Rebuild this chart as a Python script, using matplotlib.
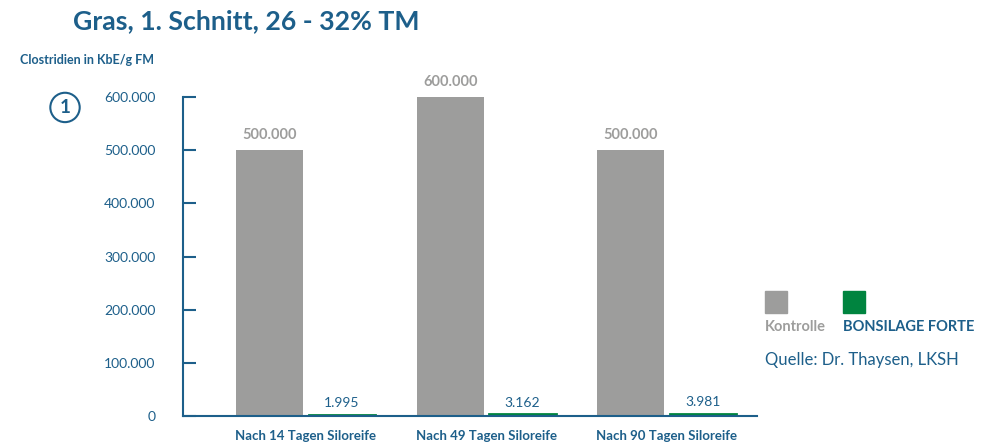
import matplotlib.pyplot as plt
from matplotlib.patches import Rectangle
import numpy as np

# Daten
categories = ['Nach 14 Tagen Siloreife', 'Nach 49 Tagen Siloreife', 'Nach 90 Tagen Siloreife']
kontrolle = [500000, 600000, 500000]
bonsilage = [1995, 3162, 3981]
yticks = [0, 100000, 200000, 300000, 400000, 500000, 600000]

BLUE = '#1D5F8A'
GRAY = '#9D9D9C'
GREEN = '#00843F'

plt.rcParams['font.family'] = ['Lato', 'DejaVu Sans']


def fmt(v):
    return f'{v:,.0f}'.replace(',', '.')


fig = plt.figure(figsize=(9.91, 4.44), dpi=100)
ax = fig.add_axes([0.1847, 0.063, 0.5793, 0.7185])

x = np.arange(len(categories))
w = 0.37
off = 0.2
ax.bar(x - off, kontrolle, w, color=GRAY)
ax.bar(x + off, bonsilage, w, color=GREEN, edgecolor=GREEN, linewidth=2)

for xi, v in zip(x, kontrolle):
    ax.annotate(fmt(v), (xi - off, v), xytext=(0, 6), textcoords='offset points',
                ha='center', va='bottom', color=GRAY, fontsize=10.5, fontweight='bold')
for xi, v in zip(x, bonsilage):
    ax.annotate(fmt(v), (xi + off, v), xytext=(0, 4), textcoords='offset points',
                ha='center', va='bottom', color=BLUE, fontsize=10)

ax.set_xlim(-0.68, 2.5)
ax.set_ylim(0, 600000)
ax.set_yticks(yticks)
ax.set_yticklabels([fmt(t) for t in yticks])
ax.set_xticks(x)
ax.set_xticklabels(categories, fontweight='bold')

for s in ['top', 'right']:
    ax.spines[s].set_visible(False)
for s in ['left', 'bottom']:
    ax.spines[s].set_color(BLUE)
    ax.spines[s].set_linewidth(1.5)

ax.tick_params(axis='y', direction='in', length=9, width=1.5, color=BLUE,
               labelcolor=BLUE, labelsize=10, pad=20)
ax.tick_params(axis='x', length=0, labelcolor=BLUE, labelsize=9.5, pad=10)

# Titel und Achsentitel
fig.text(0.074, 0.952, 'Gras, 1. Schnitt, 26 - 32% TM', color=BLUE, fontsize=19.2,
         fontweight='bold', ha='left', va='center')
fig.text(0.020, 0.865, 'Clostridien in KbE/g FM', color=BLUE, fontsize=9,
         fontweight='bold', ha='left', va='center')
fig.text(0.0656, 0.758, '1', color=BLUE, fontsize=13.5, fontweight='bold',
         ha='center', va='center',
         bbox=dict(boxstyle='circle,pad=0.33', fc='white', ec=BLUE, lw=1.5))

# Legende
fig.patches.append(Rectangle((765 / 991, 1 - 313 / 444), 22 / 991, 22 / 444,
                             transform=fig.transFigure, color=GRAY))
fig.patches.append(Rectangle((843 / 991, 1 - 313 / 444), 22 / 991, 22 / 444,
                             transform=fig.transFigure, color=GREEN))
fig.text(765 / 991, 1 - 327 / 444, 'Kontrolle', color=GRAY, fontsize=10.5,
         fontweight='bold', ha='left', va='center')
fig.text(843 / 991, 1 - 327 / 444, 'BONSILAGE FORTE', color=BLUE, fontsize=10.5,
         fontweight='bold', ha='left', va='center')
fig.text(765 / 991, 1 - 360 / 444, 'Quelle: Dr. Thaysen, LKSH', color=BLUE,
         fontsize=12, ha='left', va='center')

fig.savefig('out.png', dpi=100)
